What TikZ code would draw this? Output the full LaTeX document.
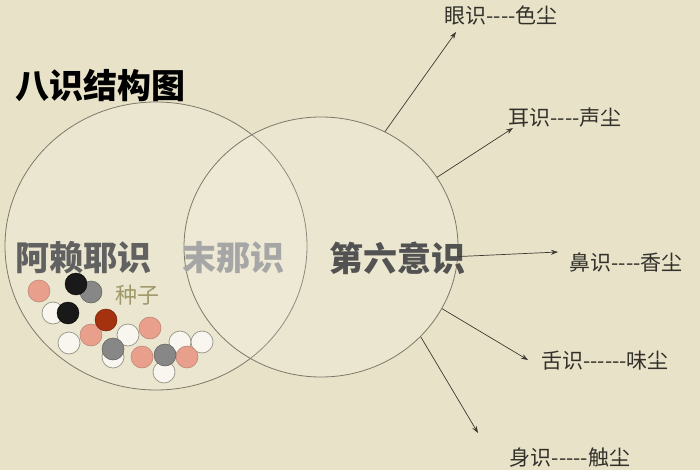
\documentclass[tikz,border=0pt]{standalone}
\usepackage{fontspec}
\newfontfamily\cjk{Noto Sans CJK SC}
\usetikzlibrary{shapes.geometric,arrows.meta}

\definecolor{paper}{RGB}{232,226,200}
\definecolor{ringc}{RGB}{125,120,105}
\definecolor{linec}{RGB}{60,58,50}
\definecolor{labc}{RGB}{50,48,42}
\definecolor{seedp}{RGB}{232,160,140}
\definecolor{seedg}{RGB}{135,135,135}
\definecolor{seedr}{RGB}{165,50,15}
\definecolor{seedc}{RGB}{160,152,105}

\tikzset{
  ring/.style={ellipse,draw=ringc,line width=0.8pt,fill=white,fill opacity=0.14,inner sep=0pt},
  big/.style={font=\cjk\bfseries\fontsize{34}{34}\selectfont,inner sep=0pt},
  sense/.style={font=\cjk\fontsize{21}{21}\selectfont,text=labc,inner sep=0pt},
  ray/.style={-{Stealth[length=7pt,width=5pt]},line width=0.7pt,draw=linec},
  white seed/.style={draw=ringc!80,fill=white!70!paper,line width=0.7pt},
  pink seed/.style={draw=seedp!80!black,fill=seedp,line width=0.5pt},
  gray seed/.style={draw=seedg!70!black,fill=seedg,line width=0.5pt},
  black seed/.style={draw=black,fill=black!90},
  red seed/.style={draw=seedr!70!black,fill=seedr,line width=0.5pt},
}

\begin{document}
\begin{tikzpicture}[x=1pt,y=-1pt]
\useasboundingbox (0,0) rectangle (700,470);
\fill[paper] (0,0) rectangle (700,470);

%the two rings
\node[ring,minimum width=302pt,minimum height=288pt] (alaya) at (156,246) {};
\node[ring,minimum width=274pt,minimum height=260pt] (six) at (321,247) {};

%title and ring labels
\node[big,text=black] (title) at (100,86) {八识结构图};
\node[big,text=black!62] (alayaname) at (83,258) {阿赖耶识};
\node[big,text=black!35] (manas) at (233,258) {末那识};
\node[big,text=black!68] (sixname) at (397,258) {第六意识};
\node[font=\cjk\fontsize{22}{22}\selectfont,text=seedc,inner sep=0pt] (seedname) at (137,295) {种子};

%seeds
\foreach \x/\y/\c in {53/313/white, 69/343/white, 128/335/white, 113/357/white,
    164/372/white, 180/342/white, 202/342/white,
    39/291/pink, 91/335/pink, 150/328/pink, 142/357/pink, 187/357/pink,
    91/292/gray, 113/349/gray, 165/355/gray,
    76/284/black, 68/313/black, 106/320/red}
  \draw[\c\space seed] (\x,\y) circle[radius=11];

%the five senses
\node[sense] (eye) at (501,15) {眼识----色尘};
\node[sense] (ear) at (565,118) {耳识----声尘};
\node[sense] (nose) at (626,262) {鼻识----香尘};
\node[sense] (tongue) at (605,361) {舌识------味尘};
\node[sense] (body) at (570,458) {身识-----触尘};

\coordinate (eyetip) at (456,32);
\coordinate (eartip) at (513,128);
\coordinate (nosetip) at (558,252);
\coordinate (tonguetip) at (528,360);
\coordinate (bodytip) at (478,433);

\draw[ray] (six.61) -- (eyetip);
\draw[ray] (six.31) -- (eartip);
\draw[ray] (six.-4) -- (nosetip);
\draw[ray] (six.-27) -- (tonguetip);
\draw[ray] (six.-42) -- (bodytip);

\end{tikzpicture}
\end{document}
